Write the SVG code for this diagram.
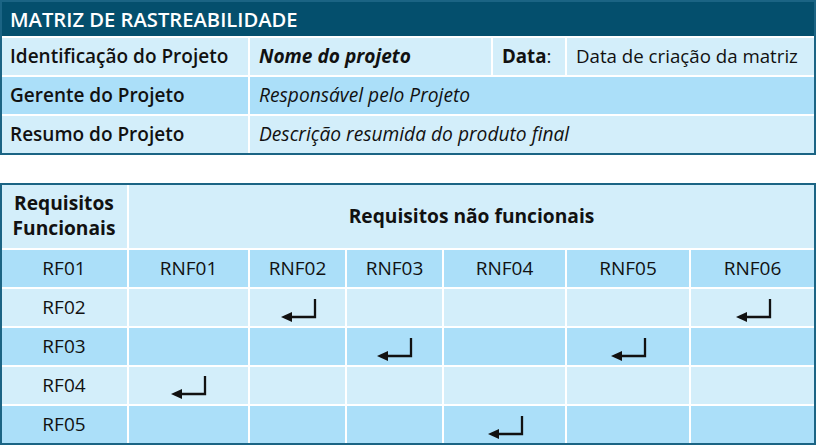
<svg xmlns="http://www.w3.org/2000/svg" width="816" height="445" viewBox="0 0 816 445">
  <style>
    text { font-family: "Open Sans", "Noto Sans", "Liberation Sans", sans-serif; fill: #111; }
    .hdr { fill: #ffffff; font-size: 20.2px; font-weight: 600; }
    .lbl { font-size: 19px; font-weight: 600; }
    .val { font-size: 18.7px; }
    .it { font-style: italic; font-size: 19.2px; }
    .bi { font-style: italic; font-weight: 700; font-size: 19.1px; }
    .b { font-weight: 700; }
    .cell { font-size: 19px; text-anchor: middle; }
    .bh { font-size: 19.2px; font-weight: 700; text-anchor: middle; }
    .light { fill: #d3eefa; }
    .mid { fill: #abdff9; }
    .div { stroke: #ffffff; stroke-width: 2; fill: none; }
    .frame { fill: none; stroke: #1b6484; stroke-width: 2; }
    .arrow { fill: none; stroke: #111; stroke-width: 2.3; marker-end: url(#head); }
  </style>
  <defs>
    <marker id="head" viewBox="0 0 11 10" refX="1" refY="5" markerWidth="11" markerHeight="10" markerUnits="userSpaceOnUse" orient="auto">
      <path d="M0,0 L11,5 L0,10 Z" fill="#111"/>
    </marker>
    <path id="ret" class="arrow" d="M0,-18 V0 H-24"/>
  </defs>

  <g id="info-table">
    <rect x="0" y="1" width="816" height="36" fill="#044f6d"/>
    <rect class="light" x="1" y="37" width="814" height="39"/>
    <rect class="mid" x="1" y="76" width="814" height="39"/>
    <rect class="light" x="1" y="115" width="814" height="39"/>
    <path class="div" d="M1,37 H815 M1,76 H815 M1,115 H815 M249,37 V154 M492,37 V76 M566,37 V76"/>
    <rect class="frame" x="1" y="1" width="814" height="153"/>
    <g id="title"><text class="hdr" x="10" y="27">MATRIZ DE RASTREABILIDADE</text></g>
    <g id="row-identificacao">
      <text class="lbl" x="10" y="63">Identificação do Projeto</text>
      <text class="bi" x="259" y="63">Nome do projeto</text>
      <text class="val" x="502" y="63"><tspan class="b">Data</tspan>:</text>
      <text class="val" x="576" y="63">Data de criação da matriz</text>
    </g>
    <g id="row-gerente">
      <text class="lbl" x="10" y="102">Gerente do Projeto</text>
      <text class="it" x="259" y="102">Responsável pelo Projeto</text>
    </g>
    <g id="row-resumo">
      <text class="lbl" x="10" y="141">Resumo do Projeto</text>
      <text class="it" x="259" y="141">Descrição resumida do produto final</text>
    </g>
  </g>

  <g id="matrix">
    <rect class="light" x="1" y="184" width="814" height="65"/>
    <rect class="mid" x="1" y="249" width="814" height="39"/>
    <rect class="light" x="1" y="288" width="814" height="39"/>
    <rect class="mid" x="1" y="327" width="814" height="39"/>
    <rect class="light" x="1" y="366" width="814" height="39"/>
    <rect class="mid" x="1" y="405" width="814" height="39"/>
    <path class="div" d="M1,249 H815 M1,288 H815 M1,327 H815 M1,366 H815 M1,405 H815 M128,184 V444 M249,249 V444 M346,249 V444 M443,249 V444 M566,249 V444 M690,249 V444"/>
    <rect class="frame" x="1" y="184" width="814" height="260"/>
    <g id="hdr-rf"><text class="bh" x="64" y="210">Requisitos</text><text class="bh" x="64" y="235">Funcionais</text></g>
    <g id="hdr-rnf"><text class="bh" x="471.5" y="223">Requisitos não funcionais</text></g>
    <g id="rf01"><text class="cell" x="64" y="275">RF01</text></g>
    <g id="rnf01"><text class="cell" x="188.5" y="275">RNF01</text></g>
    <g id="rnf02"><text class="cell" x="297.5" y="275">RNF02</text></g>
    <g id="rnf03"><text class="cell" x="394.5" y="275">RNF03</text></g>
    <g id="rnf04"><text class="cell" x="504.5" y="275">RNF04</text></g>
    <g id="rnf05"><text class="cell" x="628" y="275">RNF05</text></g>
    <g id="rnf06"><text class="cell" x="752.5" y="275">RNF06</text></g>
    <g id="rf02"><text class="cell" x="64" y="314">RF02</text></g>
    <g id="rf03"><text class="cell" x="64" y="353">RF03</text></g>
    <g id="rf04"><text class="cell" x="64" y="392">RF04</text></g>
    <g id="rf05"><text class="cell" x="64" y="431">RF05</text></g>
  </g>

  <g id="connectors">
    <use href="#ret" x="315" y="317"/>
    <use href="#ret" x="770" y="317"/>
    <use href="#ret" x="411" y="356"/>
    <use href="#ret" x="645" y="356"/>
    <use href="#ret" x="205" y="394"/>
    <use href="#ret" x="522" y="434"/>
  </g>
</svg>
